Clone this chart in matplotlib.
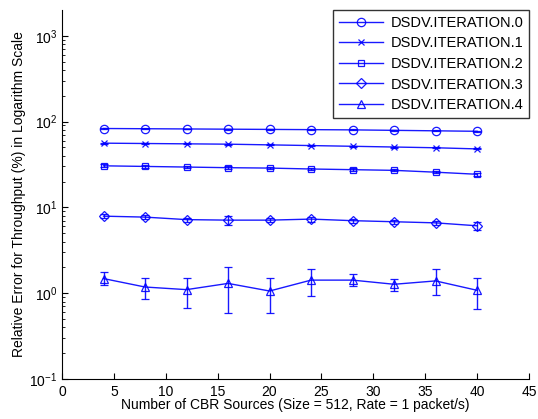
import matplotlib
matplotlib.use("Agg")
import matplotlib.pyplot as plt
import numpy as np

plt.rcParams["font.family"] = ["Liberation Sans", "DejaVu Sans"]
plt.rcParams["mathtext.fontset"] = "custom"
plt.rcParams["mathtext.rm"] = "Liberation Sans"
plt.rcParams["mathtext.it"] = "Liberation Sans:italic"

sources = [4, 8, 12, 16, 20, 24, 28, 32, 36, 40]

iter0 = [83, 82.5, 82, 81.5, 81, 80.5, 80, 79, 78, 77]
iter1 = [56, 55.5, 55, 54.5, 53.5, 52.5, 51.5, 50.5, 49.5, 48]
iter2 = [30.5, 30, 29.5, 29, 28.7, 28, 27.5, 27, 25.7, 24.3]
iter3 = [7.9, 7.7, 7.2, 7.1, 7.1, 7.3, 7.0, 6.8, 6.6, 6.1]
iter4 = [1.48, 1.18, 1.10, 1.30, 1.06, 1.42, 1.42, 1.27, 1.39, 1.08]

# error bar bounds (lower, upper)
iter0_lo = [82, 81.5, 81, 80.5, 80, 79.5, 79, 78, 77, 76]
iter0_hi = [84, 83.5, 83, 82.5, 82, 81.5, 81, 80, 79, 78]
iter1_lo = [55.3, 54.8, 54.3, 53.8, 52.8, 51.8, 50.8, 49.8, 48.8, 47.3]
iter1_hi = [56.7, 56.2, 55.7, 55.2, 54.2, 53.2, 52.2, 51.2, 50.2, 48.7]
iter2_lo = [29.3, 29, 28.6, 27.8, 27.9, 27.2, 26.6, 26.3, 25.1, 23.5]
iter2_hi = [31.7, 31, 30.4, 30.2, 29.5, 28.8, 28.4, 27.7, 26.3, 25.1]
iter3_lo = [7.5, 7.3, 6.8, 6.3, 6.7, 6.8, 6.6, 6.4, 6.2, 5.5]
iter3_hi = [8.3, 8.1, 7.6, 7.9, 7.5, 7.8, 7.4, 7.2, 7.0, 6.8]
iter4_lo = [1.24, 0.845, 0.68, 0.58, 0.58, 0.93, 1.21, 1.06, 0.955, 0.65]
iter4_hi = [1.77, 1.52, 1.52, 2.02, 1.52, 1.89, 1.66, 1.45, 1.89, 1.52]

labels = ["DSDV.ITERATION.0", "DSDV.ITERATION.1", "DSDV.ITERATION.2",
          "DSDV.ITERATION.3", "DSDV.ITERATION.4"]
series = [iter0, iter1, iter2, iter3, iter4]
lows = [iter0_lo, iter1_lo, iter2_lo, iter3_lo, iter4_lo]
highs = [iter0_hi, iter1_hi, iter2_hi, iter3_hi, iter4_hi]
markers = ["o", "x", "s", "D", "^"]
msizes = [6, 4, 5, 5, 6]

fig = plt.figure(figsize=(5.38, 4.19), dpi=100)
ax = fig.add_axes([62 / 538, 1 - 379 / 419, (529 - 62) / 538, (379 - 10) / 419])

blue = "#0000ff"
for y, lo, hi, m, ms, lab in zip(series, lows, highs, markers, msizes, labels):
    y = np.array(y)
    err = np.vstack([y - np.array(lo), np.array(hi) - y])
    ax.errorbar(sources, y, yerr=err, color=blue, marker=m, markersize=ms,
                markerfacecolor="none", markeredgecolor=blue, markeredgewidth=0.9,
                linewidth=1.0, elinewidth=1.0, capsize=3, alpha=0.9, label=lab)

ax.set_yscale("log")
ax.set_ylim(0.1, 10 ** 3.3)
ax.set_xlim(0, 45)
ax.set_xticks(np.arange(0, 46, 5))
ax.set_yticks([0.1, 1, 10, 100, 1000])
ax.spines["top"].set_visible(False)
ax.spines["right"].set_visible(False)
ax.tick_params(which="both", direction="in", labelsize=10)
ax.tick_params(which="major", length=4)
ax.tick_params(which="minor", length=2)
ax.tick_params(axis="x", pad=4.5)

ax.set_xlabel("Number of CBR Sources (Size = 512, Rate = 1 packet/s)", fontsize=10, labelpad=-1)
ax.set_ylabel("Relative Error for Throughput (%) in Logarithm Scale", fontsize=10, labelpad=2)

handles, labs = ax.get_legend_handles_labels()
handles = [h[0] for h in handles]
leg = ax.legend(handles, labs, loc="upper right", bbox_to_anchor=(1.0, 1.0),
                borderaxespad=0, fancybox=False, edgecolor="black",
                fontsize=10.5, handlelength=3.0, labelspacing=0.45,
                borderpad=0.4, handletextpad=0.5)
leg.get_frame().set_linewidth(1.0)

fig.savefig("out.png", dpi=100)
